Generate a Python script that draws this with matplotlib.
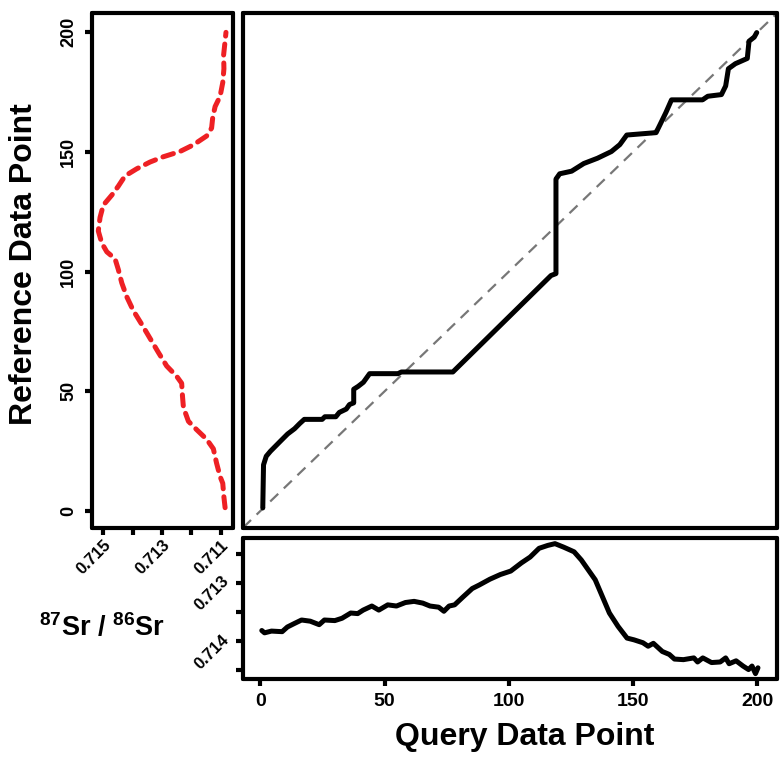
import matplotlib
matplotlib.use("Agg")
import matplotlib.pyplot as plt
import matplotlib.transforms as mtransforms

plt.rcParams['font.family'] = ['Liberation Sans', 'DejaVu Sans']
plt.rcParams['font.weight'] = 'bold'
plt.rcParams['mathtext.fontset'] = 'custom'
plt.rcParams['mathtext.rm'] = 'Liberation Sans:bold'
plt.rcParams['mathtext.bf'] = 'Liberation Sans:bold'
plt.rcParams['mathtext.it'] = 'Liberation Sans:bold'

# Reference series (left panel): 87Sr/86Sr value vs reference index
ref_idx = [1.4, 5.8, 11.6, 14.4, 20, 26, 30, 34, 37.5, 43.3, 47.7, 53.4, 56.3, 60.6, 66.4,
           72.2, 78, 83.8, 89.5, 95.3, 101, 105.4, 108.3, 111.9, 117, 122.7, 127.8, 132,
           135.7, 140, 143, 145.8, 148, 150.2, 153, 156.7, 160, 164.6, 169, 173.3, 179,
           184.8, 190.6, 196.4, 200]
ref_val = [0.71085, 0.71089, 0.71093, 0.71102, 0.71114, 0.71125, 0.71148, 0.71182, 0.71210,
           0.71227, 0.71230, 0.71233, 0.71250, 0.71284, 0.71313, 0.71341, 0.71369, 0.71398,
           0.71420, 0.71437, 0.71449, 0.71460, 0.71488, 0.71505, 0.71517, 0.71511, 0.71500,
           0.71471, 0.71449, 0.71426, 0.71386, 0.71341, 0.71296, 0.71239, 0.71193, 0.71148,
           0.71131, 0.71127, 0.71119, 0.71102, 0.71093, 0.71089, 0.71090, 0.71085, 0.71082]

# Query series (bottom panel)
query_idx = [0.6, 1.7, 4.5, 8.8, 10.9, 13.7, 16.6, 20.1, 23.7, 25.8, 30, 32.9, 36.4, 39.2,
             41.4, 44.9, 47.7, 51.3, 54.8, 58.4, 61.9, 65.4, 68.3, 71.8, 73.9, 76, 78.2,
             81.7, 85.3, 88.1, 92.4, 96.6, 100.8, 105.1, 108.6, 112.2, 115.7, 118.6, 122.1,
             126.3, 129.2, 132, 134.8, 137.7, 140.5, 144, 147.6, 150.4, 154, 156.1, 158.2,
             161.8, 164.6, 166.7, 170.3, 174.5, 176, 178.1, 181.6, 185.1, 187.3, 188.7,
             191.5, 194.3, 196.5, 197.9, 199.3, 200.3]
query_val = [0.71382, 0.71386, 0.71383, 0.71384, 0.71376, 0.71370, 0.71364, 0.71366, 0.71372,
             0.71364, 0.71365, 0.71361, 0.71352, 0.71353, 0.71347, 0.71340, 0.71347, 0.71338,
             0.71340, 0.71334, 0.71332, 0.71335, 0.71340, 0.71342, 0.71349, 0.71340, 0.71338,
             0.71324, 0.71310, 0.71304, 0.71294, 0.71286, 0.71280, 0.71266, 0.71256, 0.71241,
             0.71236, 0.71233, 0.71239, 0.71247, 0.71261, 0.71278, 0.71295, 0.71324, 0.71352,
             0.71375, 0.71395, 0.71398, 0.71403, 0.71409, 0.71404, 0.71418, 0.71423, 0.71431,
             0.71432, 0.71429, 0.71436, 0.71429, 0.71437, 0.71436, 0.71429, 0.71439, 0.71434,
             0.71443, 0.71449, 0.71443, 0.71456, 0.71446]

# Warping path (main panel)
path_q = [1, 1.3, 2.4, 4.1, 6.2, 8.3, 11, 13.8, 15.9, 17.7, 24.9, 26, 30.4, 31.8, 34.6, 35.9,
          37.6, 37.6, 39.4, 41.5, 44, 55.4, 56.8, 77.5, 117, 119, 119, 120.5, 125.3, 130.2,
          135.7, 141.3, 144.7, 147.5, 159.3, 161, 163.2, 165.5, 178, 180.1, 185.6, 187.3,
          188.4, 191.2, 196, 196.7, 198.8, 199.8]
path_r = [1.3, 19.3, 22.9, 25, 27.2, 29.4, 32.2, 34.4, 36.6, 38.3, 38.3, 39.4, 39.4, 41.2,
          42.6, 44.5, 45.2, 50.9, 52.1, 53.8, 57.4, 57.4, 58.1, 58.1, 98.4, 99.2, 138.7,
          140.9, 142, 145.2, 147.4, 150.2, 153.1, 157.1, 158.1, 161.7, 166.4, 171.8, 171.8,
          173.3, 174, 177.6, 184.8, 186.9, 189.1, 196.3, 198, 199.9]

left_ticks = [0.715, 0.714, 0.713, 0.712, 0.711]
left_ticklabels = ['0.715', '', '0.713', '', '0.711']
bot_yticks = [0.7125, 0.713, 0.7135, 0.714, 0.7145]
bot_yticklabels = ['', '0.713', '', '0.714', '']
idx_ticks = [0, 50, 100, 150, 200]

W, H = 780, 757
fig = plt.figure(figsize=(W / 100, H / 100), dpi=100)

def rect(x0, y0, x1, y1):
    return [x0 / W, 1 - y1 / H, (x1 - x0) / W, (y1 - y0) / H]

ax_left = fig.add_axes(rect(91.7, 13.3, 232.7, 527.7))
ax_main = fig.add_axes(rect(243, 13.3, 777, 527.7))
ax_bot = fig.add_axes(rect(243, 538, 777, 679))

lim_idx = (-6.96, 207.96)
SPW = 3.0

for ax in (ax_left, ax_main, ax_bot):
    for s in ax.spines.values():
        s.set_linewidth(SPW)
        s.set_capstyle('round')
    ax.tick_params(width=SPW, length=5, labelsize=12, direction='out')

# Left panel
ax_left.plot(ref_val, ref_idx, color='#EE2024', lw=3.6, linestyle=(0, (2.2, 1.6)),
             dash_capstyle='round', solid_capstyle='round')
ax_left.set_ylim(*lim_idx)
ax_left.set_xlim(0.715395, 0.710591)
ax_left.set_yticks(idx_ticks)
ax_left.set_yticklabels([str(t) for t in idx_ticks], rotation=90, va='center',
                        fontweight='bold', fontsize=13)
ax_left.tick_params(axis='y', pad=5.5)
ax_left.set_xticks(left_ticks)
ax_left.set_xticklabels(left_ticklabels, rotation=45, ha='right', va='center',
                        rotation_mode='anchor', fontweight='bold')
ax_left.tick_params(axis='x', pad=5.8)
off = mtransforms.ScaledTranslation(5.5 / 100, 0, fig.dpi_scale_trans)
for lab in ax_left.get_xticklabels():
    lab.set_transform(lab.get_transform() + off)

# Main panel
ax_main.axline((0, 0), slope=1, color='#777777', lw=1.6, linestyle=(0, (5, 3.5)))
ax_main.plot(path_q, path_r, color='black', lw=3.6, solid_capstyle='round',
             solid_joinstyle='round')
ax_main.set_xlim(*lim_idx)
ax_main.set_ylim(*lim_idx)
ax_main.set_xticks([])
ax_main.set_yticks([])

# Bottom panel
ax_bot.plot(query_idx, query_val, color='black', lw=3.6, solid_capstyle='round',
            solid_joinstyle='round')
ax_bot.set_xlim(*lim_idx)
ax_bot.set_ylim(0.714652, 0.712233)
ax_bot.set_xticks(idx_ticks)
ax_bot.set_xticklabels([str(t) for t in idx_ticks], fontweight='bold', fontsize=14)
ax_bot.tick_params(axis='x', pad=5)
ax_bot.set_yticks(bot_yticks)
ax_bot.set_yticklabels(bot_yticklabels, rotation=45, ha='right', va='center',
                       rotation_mode='anchor', fontweight='bold')
ax_bot.tick_params(axis='y', pad=6.9)
off2 = mtransforms.ScaledTranslation(0, 4 / 100, fig.dpi_scale_trans)
for lab in ax_bot.get_yticklabels():
    lab.set_transform(lab.get_transform() + off2)

# Labels
fig.text(24 / W, 1 - 264 / H, 'Reference Data Point', rotation=90, ha='center',
         va='center', fontsize=23, fontweight='bold')
fig.text(525 / W, 1 - 737 / H, 'Query Data Point', ha='center', va='center',
         fontsize=23, fontweight='bold')
fig.text(101.5 / W, 1 - 628 / H, r'$^{87}$Sr / $^{86}$Sr', ha='center', va='center',
         fontsize=19.5, fontweight='bold')

fig.savefig('out.png', dpi=100)
